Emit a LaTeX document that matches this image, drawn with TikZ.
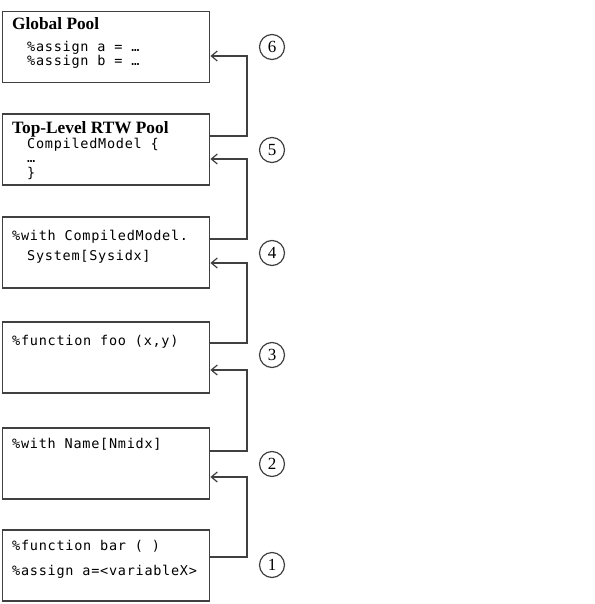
\documentclass[tikz,border=0pt]{standalone}
\usepackage{fontspec}
\setmainfont{Liberation Serif}
\newfontfamily\codefont[LetterSpace=5.5]{DejaVu Sans Mono}
\usetikzlibrary{arrows.meta}
\definecolor{ln}{HTML}{404040}
\tikzset{
  pool/.style={draw=ln, line width=1.8pt, minimum width=207pt, minimum height=71pt, inner sep=0pt},
  ttl/.style={anchor=base west, inner sep=0pt, font=\fontsize{17.3}{19}\selectfont\bfseries},
  code/.style={anchor=base west, inner sep=0pt, font=\fontsize{13.5}{15}\codefont},
  arr/.style={draw=ln, line width=1.6pt, -{Straight Barb[length=6pt,width=10pt,line width=1.2pt]}},
  num/.style={draw=ln, circle, line width=1.2pt, minimum size=25pt, inner sep=0pt, font=\fontsize{17}{19}\selectfont}
}
\begin{document}
\begin{tikzpicture}[x=1pt,y=-1pt]
\useasboundingbox (0,0) rectangle (594,604);
% boxes
\node[pool] (b1) at (106,47) {};
\node[pool] (b2) at (106,149.5) {};
\node[pool] (b3) at (106,252.5) {};
\node[pool] (b4) at (106,357.5) {};
\node[pool] (b5) at (106,463.5) {};
\node[pool] (b6) at (106,565.5) {};
% texts
\node[ttl] (t1) at (12,30) {Global Pool};
\node[code] (c1a) at (27,52) {\%assign a = …};
\node[code] (c1b) at (27,66) {\%assign b = …};
\node[ttl] (t2) at (12,134) {Top-Level RTW Pool};
\node[code] (c2a) at (27,149) {CompiledModel \{};
\node[code] (c2b) at (27,162) {…};
\node[code] (c2c) at (27,177) {\}};
\node[code] (c3a) at (12,240) {\%with CompiledModel.};
\node[code] (c3b) at (27,260) {System[Sysidx]};
\node[code] (c4a) at (12,345) {\%function foo (x,y)};
\node[code] (c5a) at (12,448) {\%with Name[Nmidx]};
\node[code] (c6a) at (12,550) {\%function bar ( )};
\node[code] (c6b) at (12,575) {\%assign a=<variableX>};
% connectors
\coordinate (v) at (247,0);
\draw[arr] (b2.east |- 0,136) -| (v |- 0,90) |- (b1.east |- 0,56);
\draw[arr] (b3.east |- 0,239) -| (v |- 0,200) |- (b2.east |- 0,159);
\draw[arr] (b4.east |- 0,343) -| (v |- 0,300) |- (b3.east |- 0,263);
\draw[arr] (b5.east |- 0,451) -| (v |- 0,400) |- (b4.east |- 0,370);
\draw[arr] (b6.east |- 0,557) -| (v |- 0,510) |- (b5.east |- 0,477);
% numbers
\node[num] (n6) at (272,47) {6};
\node[num] (n5) at (272,150) {5};
\node[num] (n4) at (272,253) {4};
\node[num] (n3) at (272,355) {3};
\node[num] (n2) at (272,464) {2};
\node[num] (n1) at (272,565) {1};
\end{tikzpicture}
\end{document}
